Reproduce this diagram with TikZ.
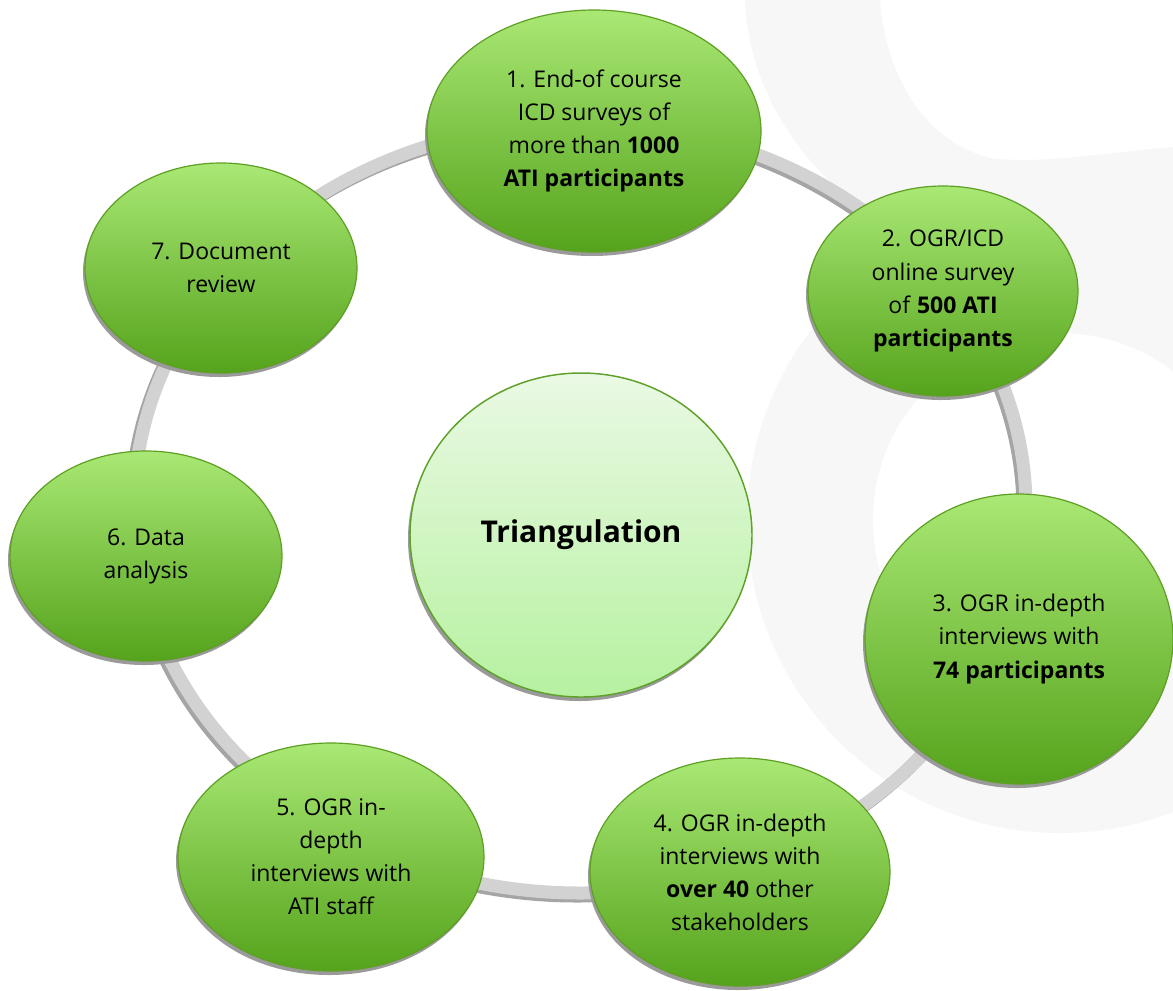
\documentclass[tikz,border=0pt]{standalone}
\usepackage{fontspec}
\setmainfont{Open Sans}
\usetikzlibrary{shapes.geometric,shadows}
\definecolor{gtop}{HTML}{A9E874}
\definecolor{gbot}{HTML}{55A31C}
\definecolor{gedge}{HTML}{5E9F24}
\definecolor{ctop}{HTML}{EAF9E4}
\definecolor{cbot}{HTML}{B6F1A0}
\definecolor{cedge}{HTML}{5FA12A}
\definecolor{ringc}{HTML}{D2D2D2}
\definecolor{ringsh}{HTML}{A5A5A5}
\definecolor{swirl}{HTML}{F7F7F7}
\definecolor{shadowc}{HTML}{9A9A9A}
\begin{document}
\begin{tikzpicture}[x=0.75pt,y=-0.75pt,
  bub/.style={ellipse, draw=gedge, line width=0.9pt, top color=gtop, bottom color=gbot,
    inner sep=0pt, align=center, font=\fontsize{17.25}{24.8}\selectfont,
    drop shadow={shadow xshift=-1.5pt, shadow yshift=-3pt, fill=shadowc, opacity=1}},
  hub/.style={ellipse, draw=cedge, line width=1.1pt, top color=ctop, bottom color=cbot,
    inner sep=0pt, align=center, font=\fontsize{22.5}{28}\selectfont\bfseries,
    drop shadow={shadow xshift=-1.5pt, shadow yshift=-3pt, fill=shadowc, opacity=1}},
  ringline/.style={draw=ringc, line width=9.75pt},
  ringshadow/.style={draw=ringsh, line width=9.75pt}
]
\useasboundingbox (0,0) rectangle (1173,990);
\fill[white] (0,0) rectangle (1173,990);
\begin{scope}
  \clip (0,0) rectangle (1173,990);
  \fill[swirl, even odd rule] (1060,520) circle (313) (1060,520) circle (187);
  \fill[swirl] (745,0) .. controls (750,150) and (900,300) .. (1173,300) -- (1173,147)
     .. controls (1110,152) and (1040,165) .. (990,158)
     .. controls (920,140) and (885,70) .. (880,0) -- cycle;
\end{scope}
% ring
\draw[ringshadow] (577,511) ellipse (446 and 385);
\draw[ringline] (580,508) ellipse (446 and 385);
% centre
\node[hub, minimum width=256.5pt, minimum height=243pt] (c) at (581,535) {Triangulation};
% bubbles
\node[bub, minimum width=250.5pt, minimum height=181.5pt] (n1) at (594,131)
  {1. End-of course\\ICD surveys of\\more than \textbf{1000}\\\textbf{ATI participants}};
\node[bub, minimum width=202.5pt, minimum height=157.5pt] (n2) at (943,291)
  {2. OGR/ICD\\online survey\\of \textbf{500 ATI}\\\textbf{participants}};
\node[bub, minimum width=231pt, minimum height=217.5pt] (n3) at (1019,639)
  {3. OGR in-depth\\interviews with\\\textbf{74 participants}};
\node[bub, minimum width=225pt, minimum height=171pt] (n4) at (740,872)
  {4. OGR in-depth\\interviews with\\\textbf{over 40} other\\stakeholders};
\node[bub, minimum width=229.5pt, minimum height=171pt] (n5) at (331,857)
  {5. OGR in-\\depth\\interviews with\\ATI staff};
\node[bub, minimum width=204pt, minimum height=157.5pt] (n6) at (146,556)
  {6. Data\\analysis};
\node[bub, minimum width=204pt, minimum height=157.5pt] (n7) at (221,268)
  {7. Document\\review};
\end{tikzpicture}
\end{document}
